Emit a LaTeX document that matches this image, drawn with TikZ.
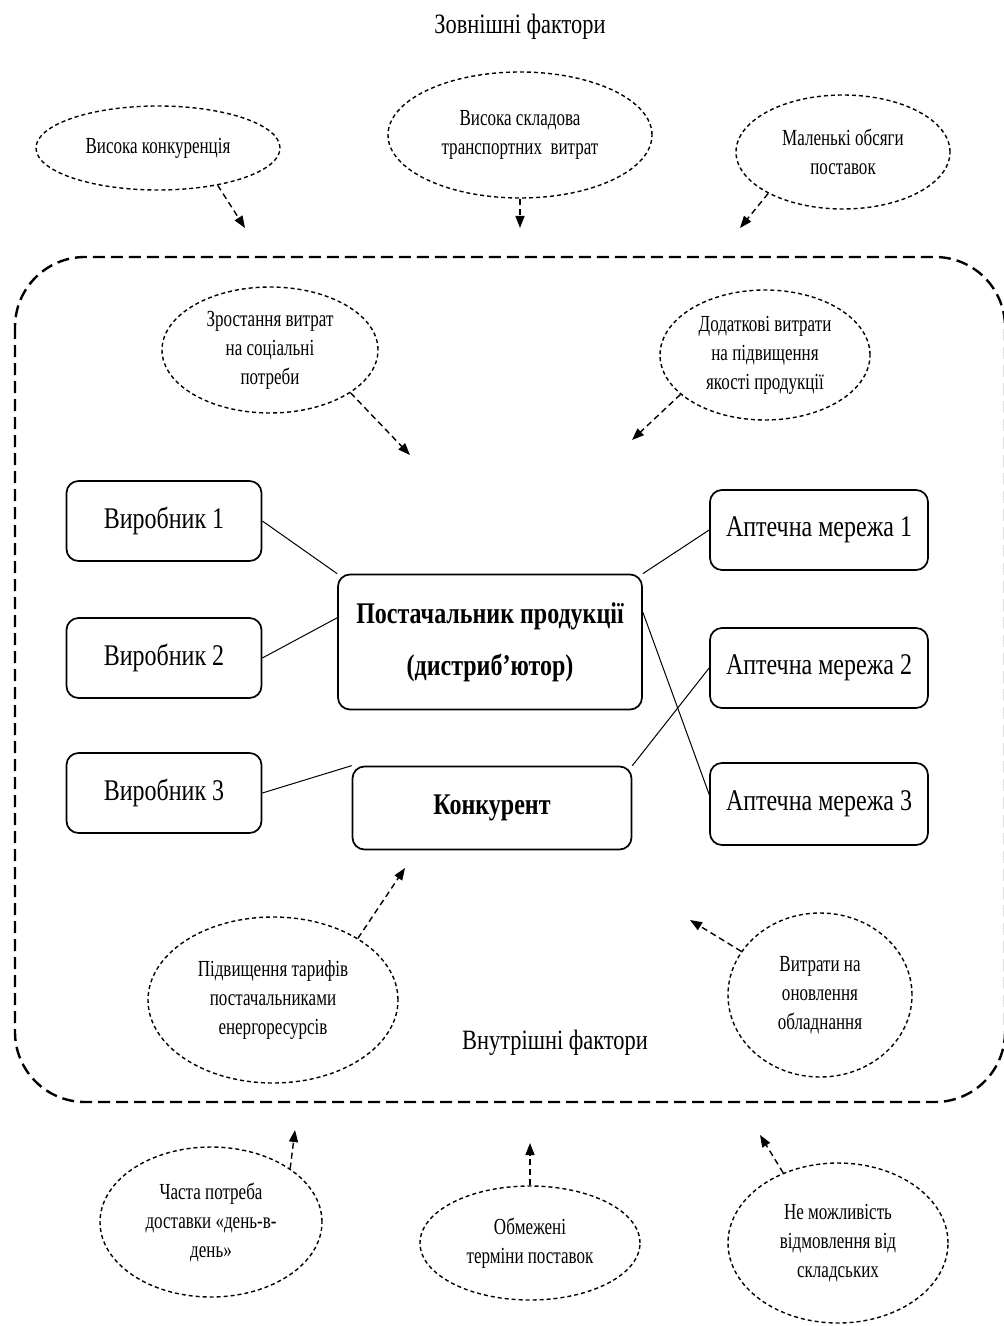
\documentclass[tikz,border=0pt]{standalone}
\usepackage{fontspec}
\setmainfont{Liberation Serif}[FakeStretch=0.8]
\newfontfamily\condfont{Liberation Serif}[FakeStretch=0.74]
\usetikzlibrary{shapes.geometric,arrows.meta}
\begin{document}
\begin{tikzpicture}[x=0.5pt,y=-0.5pt,
  ell/.style={ellipse, draw, line width=0.7pt, dash pattern=on 2pt off 1.5pt, inner sep=0pt, align=center, font=\condfont\fontsize{11.5}{14.5}\selectfont},
  box/.style={draw, rounded corners=6pt, line width=0.85pt, font=\fontsize{15}{26}\selectfont, align=center, inner sep=0pt},
  arr/.style={line width=0.7pt, dash pattern=on 3pt off 2pt, -{Triangle[length=6pt,width=4.5pt]}},
  conn/.style={line width=0.5pt},
  lbl/.style={font=\fontsize{14}{16}\selectfont}]
\useasboundingbox (0,0) rectangle (1003,1326);
\fill[white] (0,0) rectangle (1003,1326);

\node[lbl] (zf) at (520,27) {Зовнішні фактори};
\node[lbl] (vf) at (555,1043) {Внутрішні фактори};

% big dashed frame
\draw[line width=1.2pt, dash pattern=on 6pt off 3pt, rounded corners=35pt] (15,257) rectangle (1005,1102);

% outer ellipses
\node[ell, minimum width=122pt, minimum height=42pt] (e1) at (158,148) {Висока конкуренція};
\node[ell, minimum width=132pt, minimum height=63pt] (e2) at (520,135) {Висока складова\\транспортних\ \ витрат};
\node[ell, minimum width=107pt, minimum height=57pt] (e3) at (843,152) {Маленькі обсяги\\поставок};

\coordinate (t1) at (245,228);
\coordinate (t2) at (520,228);
\coordinate (t3) at (740,228);
\draw[arr] (e1.-32) -- (t1);
\draw[arr] (e2.south) -- (t2);
\draw[arr] (e3.209) -- (t3);

% inner ellipses
\node[ell, minimum width=108pt, minimum height=63pt] (e4) at (270,350) {Зростання витрат\\на соціальні\\потреби};
\node[ell, minimum width=105pt, minimum height=65pt] (e5) at (765,355) {Додаткові витрати\\на підвищення\\якості продукції};
\coordinate (t4) at (410,455);
\coordinate (t5) at (632,440);
\draw[arr] (e4.-28) -- (t4);
\draw[arr] (e5.205) -- (t5);

% boxes
\node[box, minimum width=97.5pt, minimum height=40pt] (v1) at (164,521) {Виробник 1};
\node[box, minimum width=97.5pt, minimum height=40pt] (v2) at (164,658) {Виробник 2};
\node[box, minimum width=97.5pt, minimum height=40pt] (v3) at (164,793) {Виробник 3};
\node[box, minimum width=152pt, minimum height=67.5pt, font=\bfseries\fontsize{15}{26}\selectfont] (p) at (490,642) {Постачальник продукції\\(дистриб’ютор)};
\node[box, minimum width=139.5pt, minimum height=41.5pt, font=\bfseries\fontsize{15}{26}\selectfont] (k) at (492,808) {Конкурент};
\node[box, minimum width=109pt, minimum height=40pt] (a1) at (819,530) {Аптечна мережа 1};
\node[box, minimum width=109pt, minimum height=40pt] (a2) at (819,668) {Аптечна мережа 2};
\node[box, minimum width=109pt, minimum height=41pt] (a3) at (819,804) {Аптечна мережа 3};

\draw[conn] (v1.east) -- (p.north west);
\draw[conn] (v2.east) -- (p.171);
\draw[conn] (v3.east) -- (k.north west);
\draw[conn] (a1.west) -- (p.north east);
\draw[conn] (p.11) -- (a3.175);
\draw[conn] (k.north east) -- (a2.west);

% lower inner ellipses
\node[ell, minimum width=125pt, minimum height=83pt] (e6) at (273,1000) {Підвищення тарифів\\постачальниками\\енергоресурсів};
\node[ell, minimum width=92pt, minimum height=82pt] (e7) at (820,995) {Витрати на\\оновлення\\обладнання};
\coordinate (t6) at (405,868);
\coordinate (t7) at (690,920);
\draw[arr] (e6.36) -- (t6);
\draw[arr] (e7.151) -- (t7);

% bottom ellipses
\node[ell, minimum width=111pt, minimum height=75pt] (e8) at (211,1222) {Часта потреба\\доставки «день-в-\\день»};
\node[ell, minimum width=110pt, minimum height=57pt] (e9) at (530,1243) {Обмежені\\терміни поставок};
\node[ell, minimum width=110pt, minimum height=80pt] (e10) at (838,1243) {Не можливість\\відмовлення від\\складських};
\coordinate (t8) at (295,1130);
\coordinate (t9) at (530,1143);
\coordinate (t10) at (760,1135);
\draw[arr] (e8.34) -- (t8);
\draw[arr] (e9.north) -- (t9);
\draw[arr] (e10.128) -- (t10);
\end{tikzpicture}
\end{document}
